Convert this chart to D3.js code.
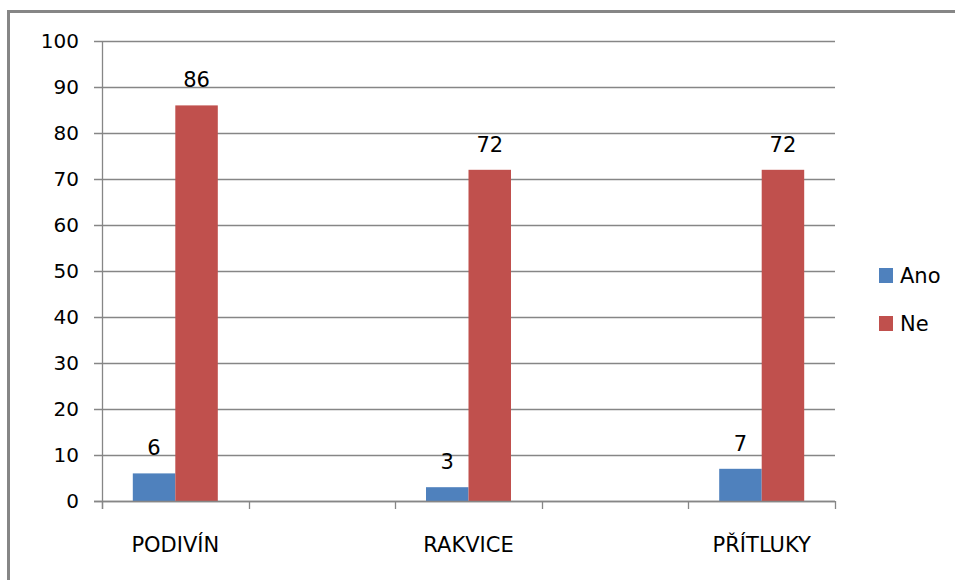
<!DOCTYPE html>
<html>
<head>
<meta charset="utf-8">
<script src="https://cdn.jsdelivr.net/npm/d3@7/dist/d3.min.js"></script>
<style>
  html, body { margin: 0; padding: 0; background: #fff; }
  svg { display: block; }
  text { font-family: "DejaVu Sans", sans-serif; fill: #000; }
</style>
</head>
<body>
<div id="chart"></div>
<script>
// categories (blank slots are the empty bands between towns)
var categories = ['PODIVÍN', '', 'RAKVICE', '', 'PŘÍTLUKY'];
var seriesNames = ['Ano', 'Ne'];
var ano = [6, null, 3, null, 7];
var ne = [86, null, 72, null, 72];
var yTicks = [0, 10, 20, 30, 40, 50, 60, 70, 80, 90, 100];
var colors = ['#4f81bd', '#c0504d'];

(function () {
  var W = 955, H = 580;
  var left = 102, right = 835, top = 41, bottom = 501;

  var svg = d3.select('#chart').append('svg')
    .attr('width', W).attr('height', H);

  // outer chart border (right/bottom edges fall outside the picture)
  svg.append('rect')
    .attr('x', 8.5).attr('y', 11.5).attr('width', W + 20).attr('height', H + 20)
    .attr('fill', '#fff').attr('stroke', '#868686').attr('stroke-width', 3);

  var x = d3.scaleBand().domain(d3.range(categories.length)).range([left, right]);
  var y = d3.scaleLinear().domain([0, 100]).range([bottom, top]);

  // group of two bars ~85px wide centered in each band
  var groupW = 85;
  var inner = d3.scaleBand().domain(seriesNames)
    .range([(x.bandwidth() - groupW) / 2, (x.bandwidth() + groupW) / 2]);

  // gridlines + y tick marks
  var gy = svg.append('g');
  gy.selectAll('line').data(yTicks).join('line')
    .attr('x1', left - 8).attr('x2', right)
    .attr('y1', function (d) { return Math.round(y(d)) + 0.5; })
    .attr('y2', function (d) { return Math.round(y(d)) + 0.5; })
    .attr('stroke', '#868686').attr('stroke-width', 1.3);

  gy.selectAll('text').data(yTicks).join('text')
    .attr('x', 79).attr('y', function (d) { return y(d); })
    .attr('dy', '0.36em').attr('text-anchor', 'end')
    .attr('font-size', 20).text(function (d) { return d; });

  // y axis line
  svg.append('line')
    .attr('x1', left + 0.5).attr('x2', left + 0.5)
    .attr('y1', top).attr('y2', bottom + 8)
    .attr('stroke', '#868686').attr('stroke-width', 1.3);

  // x axis tick marks at band edges
  var edges = d3.range(categories.length + 1).map(function (i) {
    return i < categories.length ? x(i) : x(categories.length - 1) + x.bandwidth();
  });
  svg.append('g').selectAll('line').data(edges).join('line')
    .attr('x1', function (d) { return Math.round(d) + 0.5; })
    .attr('x2', function (d) { return Math.round(d) + 0.5; })
    .attr('y1', bottom).attr('y2', bottom + 8)
    .attr('stroke', '#868686').attr('stroke-width', 1.3);

  // bars + value labels
  var series = [ano, ne];
  series.forEach(function (vals, si) {
    var g = svg.append('g');
    var data = vals.map(function (v, i) { return { i: i, v: v }; })
      .filter(function (d) { return d.v != null; });
    g.selectAll('rect').data(data).join('rect')
      .attr('x', function (d) { return x(d.i) + inner(seriesNames[si]); })
      .attr('y', function (d) { return y(d.v); })
      .attr('width', inner.bandwidth())
      .attr('height', function (d) { return y(0) - y(d.v); })
      .attr('fill', colors[si]);
    g.selectAll('text').data(data).join('text')
      .attr('x', function (d) { return x(d.i) + inner(seriesNames[si]) + inner.bandwidth() / 2; })
      .attr('y', function (d) { return y(d.v) - 18; })
      .attr('text-anchor', 'middle').attr('font-size', 21)
      .text(function (d) { return d.v; });
  });

  // redraw baseline over bars
  svg.append('line')
    .attr('x1', left - 8).attr('x2', right)
    .attr('y1', Math.round(y(0)) + 0.5).attr('y2', Math.round(y(0)) + 0.5)
    .attr('stroke', '#868686').attr('stroke-width', 1.3);

  // category labels
  svg.append('g').selectAll('text').data(categories).join('text')
    .attr('x', function (d, i) { return x(i) + x.bandwidth() / 2; })
    .attr('y', 552).attr('text-anchor', 'middle').attr('font-size', 21)
    .text(function (d) { return d; });

  // legend
  var lg = svg.append('g');
  seriesNames.forEach(function (name, i) {
    var cy = 275 + i * 48;
    lg.append('rect').attr('x', 879).attr('y', cy - 7).attr('width', 14).attr('height', 15)
      .attr('fill', colors[i]);
    lg.append('text').attr('x', 900).attr('y', cy).attr('dy', '0.36em')
      .attr('font-size', 21).text(name);
  });
})();
</script>
</body>
</html>
